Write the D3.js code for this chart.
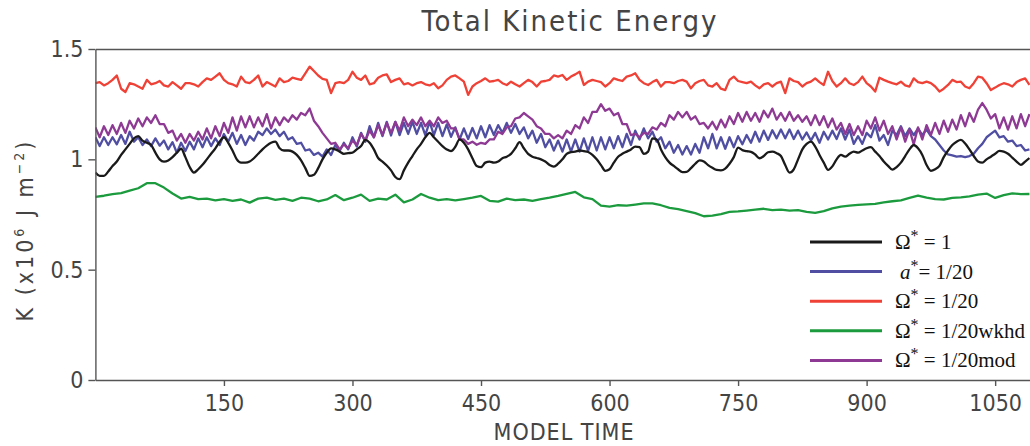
<!DOCTYPE html>
<html>
<head>
<meta charset="utf-8">
<script src="https://cdn.jsdelivr.net/npm/d3@7"></script>
<style>
   body { margin: 0; background: #fff; }
   svg { display: block; }
</style>
</head>
<body>
<div id="chart"></div>
<script>
// model time step of each series (in model time units)
const stepFine = 5;
const stepCoarse = 10;

// Omega* = 1, sampled every 5 time units
const omega1 = [
   0.94, 0.925, 0.925, 0.945, 0.97, 0.99, 1.02, 1.045, 1.07, 1.095,
   1.105, 1.085, 1.075, 1.065, 1.03, 1.0, 0.99, 0.995, 1.01, 1.03,
   1.048, 1.01, 0.965, 0.94, 0.955, 0.975, 1.0, 1.025, 1.05, 1.08,
   1.1, 1.075, 1.04, 1.0, 0.985, 0.985, 0.99, 1.005, 1.025, 1.045,
   1.062, 1.075, 1.08, 1.05, 1.04, 1.04, 1.035, 1.02, 0.995, 0.96,
   0.925, 0.93, 0.96, 1.0, 1.03, 1.05, 1.045, 1.035, 1.025, 1.028,
   1.03, 1.045, 1.06, 1.088, 1.075, 1.045, 1.006, 0.99, 0.972, 0.95,
   0.92, 0.91, 0.95, 0.985, 1.015, 1.045, 1.07, 1.1, 1.12, 1.1,
   1.08, 1.06, 1.045, 1.037, 1.057, 1.09, 1.075, 1.045, 1.005, 0.97,
   0.965, 0.985, 0.99, 0.985, 0.99, 1.005, 1.012, 1.025, 1.05, 1.078,
   1.05, 1.025, 1.012, 1.006, 1.0, 0.99, 0.974, 0.967, 0.98, 1.0,
   1.025, 1.033, 1.035, 1.04, 1.037, 1.033, 1.02, 1.0, 0.974, 0.948,
   0.955, 0.985, 1.012, 1.025, 1.035, 1.045, 1.058, 1.055, 1.025, 1.035,
   1.095, 1.09, 1.045, 1.01, 0.985, 0.97, 0.955, 0.942, 0.943, 0.96,
   0.98, 0.995, 0.99, 0.974, 0.962, 0.952, 0.95, 0.958, 0.98, 1.01,
   1.053, 1.042, 1.037, 1.034, 1.022, 1.005, 1.015, 1.032, 1.035, 1.028,
   1.015, 0.974, 0.94, 0.955, 1.0, 1.045, 1.07, 1.08, 1.058, 1.02,
   0.985, 0.952, 0.968, 1.0, 1.02, 1.012, 1.025, 1.035, 1.03, 1.04,
   1.05, 1.055, 1.035, 1.015, 0.99, 0.97, 0.953, 0.965, 0.985, 1.015,
   1.045, 1.065, 1.05, 1.02, 0.974, 0.948, 0.955, 0.97, 1.01, 1.04,
   1.065, 1.08, 1.088, 1.072, 1.045, 1.015, 0.99, 0.985, 1.0, 1.012,
   1.025, 1.038, 1.035, 1.025, 1.008, 0.99, 0.975, 0.99, 1.006
];

// a* = 1/20, sampled every 5 time units
const aStar = [
   1.10, 1.06, 1.10, 1.065, 1.10, 1.068, 1.11, 1.07, 1.125, 1.08,
   1.10, 1.065, 1.09, 1.06, 1.095, 1.062, 1.085, 1.045, 1.078, 1.03,
   1.075, 1.038, 1.08, 1.045, 1.095, 1.055, 1.10, 1.06, 1.095, 1.065,
   1.115, 1.08, 1.12, 1.07, 1.11, 1.065, 1.105, 1.085, 1.125, 1.11,
   1.14, 1.115, 1.135, 1.105, 1.125, 1.09, 1.10, 1.07, 1.075, 1.04,
   1.045, 1.02, 1.03, 1.012, 1.045, 1.02, 1.065, 1.038, 1.075, 1.045,
   1.10, 1.058, 1.12, 1.08, 1.15, 1.10, 1.165, 1.105, 1.17, 1.108,
   1.17, 1.11, 1.165, 1.115, 1.17, 1.115, 1.165, 1.11, 1.17, 1.11,
   1.165, 1.105, 1.158, 1.102, 1.145, 1.09, 1.14, 1.092, 1.142, 1.095,
   1.15, 1.10, 1.155, 1.11, 1.155, 1.12, 1.165, 1.12, 1.16, 1.115,
   1.145, 1.095, 1.13, 1.075, 1.115, 1.055, 1.09, 1.04, 1.085, 1.035,
   1.09, 1.035, 1.09, 1.035, 1.095, 1.038, 1.10, 1.04, 1.10, 1.045,
   1.10, 1.05, 1.105, 1.055, 1.115, 1.065, 1.13, 1.09, 1.14, 1.095,
   1.125, 1.08, 1.10, 1.05, 1.08, 1.03, 1.065, 1.022, 1.06, 1.022,
   1.07, 1.03, 1.10, 1.05, 1.115, 1.05, 1.10, 1.048, 1.10, 1.055,
   1.105, 1.068, 1.11, 1.075, 1.125, 1.08, 1.13, 1.088, 1.132, 1.095,
   1.135, 1.095, 1.135, 1.092, 1.13, 1.09, 1.122, 1.085, 1.12, 1.075,
   1.125, 1.09, 1.13, 1.092, 1.14, 1.09, 1.135, 1.07, 1.105, 1.07,
   1.12, 1.10, 1.155, 1.085, 1.11, 1.065, 1.13, 1.11, 1.15, 1.105,
   1.14, 1.11, 1.14, 1.11, 1.135, 1.105, 1.09, 1.065, 1.04, 1.022,
   1.018, 1.012, 1.015, 1.01, 1.015, 1.025, 1.05, 1.07, 1.10, 1.115,
   1.13, 1.10, 1.105, 1.08, 1.085, 1.06, 1.065, 1.04, 1.045
];

// Omega* = 1/20, sampled every 5 time units
const omega20 = [
   1.345, 1.35, 1.335, 1.345, 1.36, 1.38, 1.32, 1.305, 1.345, 1.34,
   1.33, 1.32, 1.36, 1.34, 1.345, 1.355, 1.335, 1.33, 1.35, 1.335,
   1.32, 1.345, 1.345, 1.34, 1.33, 1.35, 1.367, 1.36, 1.375, 1.39,
   1.36, 1.345, 1.34, 1.33, 1.375, 1.35, 1.345, 1.36, 1.38, 1.33,
   1.35, 1.34, 1.33, 1.367, 1.35, 1.355, 1.37, 1.365, 1.36, 1.39,
   1.42, 1.40, 1.38, 1.365, 1.36, 1.30, 1.345, 1.35, 1.345, 1.36,
   1.397, 1.37, 1.36, 1.38, 1.34, 1.345, 1.37, 1.38, 1.385, 1.35,
   1.36, 1.367, 1.34, 1.345, 1.335, 1.345, 1.35, 1.34, 1.335, 1.345,
   1.322, 1.335, 1.36, 1.375, 1.38, 1.367, 1.352, 1.292, 1.33, 1.345,
   1.355, 1.367, 1.352, 1.355, 1.36, 1.345, 1.337, 1.352, 1.34, 1.33,
   1.345, 1.36, 1.35, 1.33, 1.352, 1.355, 1.36, 1.38, 1.375, 1.382,
   1.36, 1.375, 1.385, 1.397, 1.337, 1.352, 1.36, 1.355, 1.35, 1.33,
   1.345, 1.367, 1.36, 1.355, 1.375, 1.38, 1.39, 1.36, 1.345, 1.337,
   1.35, 1.36, 1.33, 1.35, 1.35, 1.345, 1.355, 1.36, 1.352, 1.322,
   1.345, 1.355, 1.36, 1.335, 1.33, 1.345, 1.32, 1.314, 1.36, 1.375,
   1.355, 1.35, 1.345, 1.352, 1.335, 1.322, 1.34, 1.345, 1.33, 1.345,
   1.352, 1.30, 1.367, 1.355, 1.35, 1.33, 1.345, 1.352, 1.367, 1.35,
   1.337, 1.397, 1.355, 1.33, 1.345, 1.367, 1.345, 1.337, 1.35, 1.375,
   1.345, 1.33, 1.307, 1.37, 1.36, 1.352, 1.345, 1.34, 1.352, 1.335,
   1.33, 1.367, 1.35, 1.345, 1.352, 1.345, 1.33, 1.307, 1.32, 1.337,
   1.36, 1.35, 1.352, 1.33, 1.322, 1.345, 1.375, 1.37, 1.345, 1.314,
   1.325, 1.337, 1.345, 1.34, 1.33, 1.35, 1.36, 1.367, 1.337
];

// Omega* = 1/20wkhd, sampled every 10 time units
const omega20wkhd = [
   0.83, 0.835, 0.842, 0.847, 0.858, 0.869, 0.892, 0.892, 0.872, 0.845,
   0.822, 0.83, 0.82, 0.822, 0.814, 0.82, 0.812, 0.818, 0.804, 0.822,
   0.826, 0.816, 0.822, 0.812, 0.826, 0.822, 0.81, 0.818, 0.838, 0.815,
   0.826, 0.84, 0.812, 0.822, 0.818, 0.84, 0.805, 0.818, 0.843, 0.826,
   0.815, 0.82, 0.814, 0.82, 0.826, 0.834, 0.812, 0.808, 0.822, 0.815,
   0.818, 0.812, 0.82, 0.826, 0.834, 0.843, 0.852, 0.828, 0.82, 0.79,
   0.786, 0.792, 0.79, 0.795, 0.80, 0.80, 0.792, 0.78, 0.774, 0.765,
   0.756, 0.742, 0.745, 0.752, 0.762, 0.764, 0.768, 0.772, 0.776, 0.77,
   0.772, 0.768, 0.77, 0.762, 0.757, 0.765, 0.778, 0.786, 0.79, 0.794,
   0.796, 0.798, 0.805, 0.81, 0.814, 0.825, 0.836, 0.826, 0.82, 0.818,
   0.825, 0.828, 0.832, 0.84, 0.845, 0.825, 0.838, 0.846, 0.842, 0.843
];

// Omega* = 1/20mod, sampled every 5 time units
const omega20mod = [
   1.145, 1.10, 1.15, 1.11, 1.155, 1.115, 1.165, 1.12, 1.175, 1.14,
   1.185, 1.15, 1.19, 1.165, 1.20, 1.16, 1.16, 1.12, 1.13, 1.085,
   1.115, 1.075, 1.115, 1.085, 1.125, 1.09, 1.14, 1.095, 1.15, 1.105,
   1.165, 1.12, 1.19, 1.13, 1.195, 1.145, 1.195, 1.145, 1.19, 1.15,
   1.205, 1.14, 1.19, 1.155, 1.19, 1.17, 1.20, 1.18, 1.21, 1.20,
   1.23, 1.175, 1.15, 1.12, 1.095, 1.07, 1.075, 1.045, 1.068, 1.05,
   1.085, 1.065, 1.115, 1.085, 1.13, 1.10, 1.155, 1.11, 1.165, 1.12,
   1.17, 1.13, 1.19, 1.15, 1.18, 1.155, 1.19, 1.15, 1.175, 1.15,
   1.19, 1.165, 1.175, 1.14, 1.14, 1.09, 1.09, 1.07, 1.08, 1.066,
   1.075, 1.07, 1.09, 1.09, 1.125, 1.115, 1.145, 1.15, 1.185, 1.19,
   1.21, 1.195, 1.18, 1.15, 1.14, 1.115, 1.115, 1.095, 1.11, 1.095,
   1.13, 1.115, 1.155, 1.14, 1.19, 1.165, 1.215, 1.215, 1.25, 1.22,
   1.23, 1.20, 1.21, 1.16, 1.16, 1.11, 1.115, 1.10, 1.12, 1.115,
   1.145, 1.135, 1.165, 1.15, 1.20, 1.18, 1.215, 1.19, 1.215, 1.18,
   1.195, 1.16, 1.165, 1.14, 1.17, 1.135, 1.18, 1.145, 1.195, 1.16,
   1.21, 1.17, 1.215, 1.175, 1.21, 1.17, 1.22, 1.19, 1.23, 1.18,
   1.21, 1.175, 1.215, 1.175, 1.20, 1.17, 1.195, 1.155, 1.20, 1.155,
   1.195, 1.145, 1.185, 1.135, 1.165, 1.115, 1.16, 1.11, 1.15, 1.11,
   1.175, 1.14, 1.19, 1.13, 1.175, 1.115, 1.15, 1.09, 1.145, 1.08,
   1.135, 1.068, 1.145, 1.09, 1.155, 1.11, 1.165, 1.115, 1.175, 1.125,
   1.18, 1.135, 1.20, 1.15, 1.21, 1.17, 1.225, 1.255, 1.225, 1.185,
   1.205, 1.14, 1.19, 1.135, 1.195, 1.14, 1.205, 1.15, 1.205
];

const xTicks = [150, 300, 450, 600, 750, 900, 1050];
const yTicks = [0, 0.5, 1, 1.5];

const series = [
   { key: 'wkhd', values: omega20wkhd, step: stepCoarse, color: '#1c9a3e' },
   { key: 'om20', values: omega20, step: stepFine, color: '#ef4136' },
   { key: 'a20', values: aStar, step: stepFine, color: '#4f4ea3' },
   { key: 'mod', values: omega20mod, step: stepFine, color: '#8e3a94' },
   { key: 'om1', values: omega1, step: stepFine, color: '#1a1a1a', smooth: true },
];

const legendItems = [
   { sym: 'Ω', italic: false, rest: ' = 1', color: '#1a1a1a' },
   { sym: 'a', italic: true, rest: '= 1/20', color: '#4f4ea3' },
   { sym: 'Ω', italic: false, rest: ' = 1/20', color: '#ef4136' },
   { sym: 'Ω', italic: false, rest: ' = 1/20wkhd', color: '#1c9a3e' },
   { sym: 'Ω', italic: false, rest: ' = 1/20mod', color: '#8e3a94' },
];

const width = 1030;
const height = 446;
const plot = { left: 95.4, right: 1038, top: 49, bottom: 380 };
const axisFont = '"DejaVu Sans Condensed", "DejaVu Sans", sans-serif';

const svg = d3
   .select('#chart')
   .append('svg')
   .attr('width', width)
   .attr('height', height);

const xScale = d3.scaleLinear().domain([0, 1100]).range([plot.left, plot.right]);
const yScale = d3.scaleLinear().domain([0, 1.5]).range([plot.bottom, plot.top]);

svg.append('defs')
   .append('clipPath')
   .attr('id', 'clip')
   .append('rect')
   .attr('x', plot.left)
   .attr('y', plot.top)
   .attr('width', plot.right - plot.left)
   .attr('height', plot.bottom - plot.top);

// lines
const dataGroup = svg.append('g').attr('clip-path', 'url(#clip)');
series.forEach((s) => {
   const line = d3
      .line()
      .x((d, i) => xScale(i * s.step))
      .y((d) => yScale(d))
      .curve(s.smooth ? d3.curveMonotoneX : d3.curveLinear);
   dataGroup
      .append('path')
      .datum(s.values)
      .attr('fill', 'none')
      .attr('stroke', s.color)
      .attr('stroke-width', 2.3)
      .attr('stroke-linejoin', 'round')
      .attr('d', line);
});

// axes
const xAxis = d3.axisBottom(xScale).tickValues(xTicks).tickSize(6).tickSizeOuter(0).tickPadding(9)
   .tickFormat(d3.format('d'));
const yAxis = d3.axisLeft(yScale).tickValues(yTicks).tickSize(7).tickSizeOuter(0).tickPadding(5)
   .tickFormat((d) => String(d));
const topAxis = d3.axisTop(xScale).tickValues([]).tickSizeOuter(0);

const xAxisG = svg.append('g').attr('transform', `translate(0,${plot.bottom})`).call(xAxis);
const yAxisG = svg.append('g').attr('transform', `translate(${plot.left},0)`).call(yAxis);
const topG = svg.append('g').attr('transform', `translate(0,${plot.top})`).call(topAxis);

[xAxisG, yAxisG, topG].forEach((g) => {
   g.selectAll('path, line').attr('stroke', '#555').attr('stroke-width', 1.4);
   g.selectAll('text')
      .attr('fill', '#444')
      .style('font-family', axisFont)
      .style('font-size', '23px');
});

// title and axis titles
svg.append('text')
   .attr('x', 570)
   .attr('y', 31)
   .attr('text-anchor', 'middle')
   .attr('fill', '#444')
   .style('font-family', axisFont)
   .style('font-size', '29px')
   .style('letter-spacing', '2px')
   .text('Total Kinetic Energy');

svg.append('text')
   .attr('x', 564)
   .attr('y', 440)
   .attr('text-anchor', 'middle')
   .attr('fill', '#444')
   .style('font-family', axisFont)
   .style('font-size', '23px')
   .style('letter-spacing', '1px')
   .text('MODEL TIME');

const yTitle = svg.append('text')
   .attr('transform', 'translate(33,230) rotate(-90)')
   .attr('text-anchor', 'middle')
   .attr('fill', '#444')
   .style('font-family', axisFont)
   .style('font-size', '23px')
   .style('letter-spacing', '3px');
yTitle.append('tspan').text('K  (x10');
yTitle.append('tspan').attr('dy', -9).style('font-size', '14px').text('6');
yTitle.append('tspan').attr('dy', 9).text('  J  m');
yTitle.append('tspan').attr('dy', -9).style('font-size', '14px').text('−2');
yTitle.append('tspan').attr('dy', 9).text(')');

// legend
const legend = svg.append('g').attr('transform', 'translate(810,242)');
legendItems.forEach((item, i) => {
   const row = legend.append('g').attr('transform', `translate(0,${i * 29.6})`);
   row.append('line')
      .attr('x1', 0)
      .attr('x2', 72)
      .attr('stroke', item.color)
      .attr('stroke-width', 3);
   const t = row.append('text')
      .attr('x', item.italic ? 90 : 85)
      .attr('y', 7)
      .attr('fill', '#111')
      .style('font-family', '"Liberation Serif", "DejaVu Serif", serif')
      .style('font-size', '21px');
   t.append('tspan').style('font-style', item.italic ? 'italic' : 'normal').text(item.sym);
   t.append('tspan').attr('dy', -8).style('font-size', '16px').text('*');
   t.append('tspan').attr('dy', 8).text(item.rest);
});
</script>
</body>
</html>
